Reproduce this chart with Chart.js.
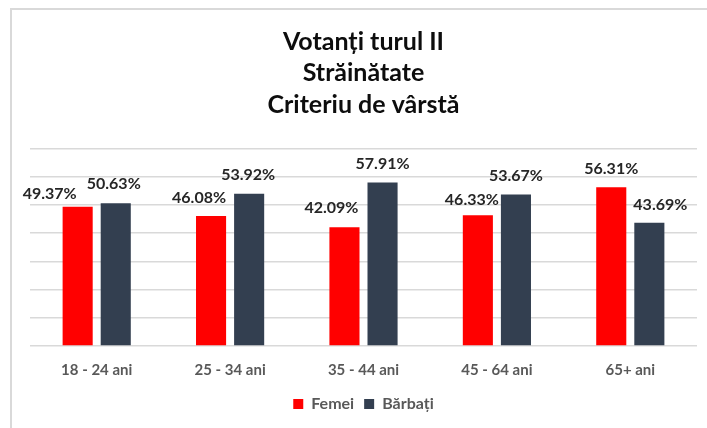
<!DOCTYPE html>
<html>
<head>
<meta charset="utf-8">
<script src="https://cdn.jsdelivr.net/npm/chart.js@4.4.0/dist/chart.umd.min.js"></script>
<style>
    body { margin: 0; background: #fff; }
    #wrap { position: relative; width: 707px; height: 428px; }
    #frame { position: absolute; left: 10px; top: 8px; right: 0; bottom: 0;
             border-left: 2px solid #d9d9d9; border-top: 2px solid #d9d9d9; pointer-events: none; }
    canvas { position: absolute; left: 0; top: 0; }
</style>
</head>
<body>
<div id="wrap">
    <canvas id="voteChart" width="707" height="428"></canvas>
    <div id="frame"></div>
</div>
<script>
const categories = ['18 - 24 ani', '25 - 34 ani', '35 - 44 ani', '45 - 64 ani', '65+ ani'];
const femei = [49.37, 46.08, 42.09, 46.33, 56.31];
const barbati = [50.63, 53.92, 57.91, 53.67, 43.69];
const titleLines = ['Votanți turul II', 'Străinătate', 'Criteriu de vârstă'];

// labels on top of bars (Excel moved a few of them to avoid overlaps)
const barLabels = {
    id: 'barLabels',
    afterDatasetsDraw(chart, args, opts) {
        const ctx = chart.ctx;
        ctx.save();
        ctx.font = 'bold 16px Lato';
        ctx.fillStyle = '#262626';
        ctx.textAlign = 'center';
        ctx.textBaseline = 'middle';
        chart.data.datasets.forEach((ds, i) => {
            const meta = chart.getDatasetMeta(i);
            meta.data.forEach((bar, j) => {
                const n = opts.nudge[i][j];
                ctx.fillText(ds.data[j].toFixed(2) + '%', bar.x + n[0], bar.y + n[1]);
            });
        });
        ctx.restore();
    }
};

const ctx = document.getElementById('voteChart').getContext('2d');
const chart = new Chart(ctx, {
    type: 'bar',
    data: {
        labels: categories,
        datasets: [{
            label: 'Femei',
            backgroundColor: '#ff0000',
            data: femei,
        }, {
            label: 'Bărbați',
            backgroundColor: '#333f50',
            data: barbati,
        }]
    },
    plugins: [barLabels],
    options: {
        responsive: false,
        animation: false,
        categoryPercentage: 0.571,
        barPercentage: 0.79,
        layout: { padding: { left: 30, right: 10, top: 14, bottom: 6 } },
        scales: {
            x: {
                grid: { display: false },
                border: { display: false },
                ticks: { color: '#595959', font: { family: 'Lato', size: 15, weight: 'bold' }, padding: 7 }
            },
            y: {
                min: 0, max: 70,
                ticks: { display: false, stepSize: 10 },
                grid: { color: '#d9d9d9', lineWidth: 1.5, drawTicks: false },
                border: { display: false }
            }
        },
        plugins: {
            title: {
                display: true,
                text: titleLines,
                color: '#0d0d0d',
                font: { family: 'Lato', size: 25, weight: 'bold', lineHeight: 1.26 },
                padding: { top: 12, bottom: 28 }
            },
            legend: {
                position: 'bottom',
                labels: {
                    boxWidth: 10, boxHeight: 10, padding: 10,
                    color: '#595959',
                    font: { family: 'Lato', size: 16, weight: 'bold' }
                }
            },
            tooltip: { enabled: false },
            barLabels: {
                nudge: [
                    [[-28, -13], [-12, -18], [-13, -19], [-6, -15], [0, -18]],
                    [[-2, -19], [-1, -19], [0, -19], [0, -19], [11, -18]]
                ]
            }
        }
    }
});
</script>
</body>
</html>
